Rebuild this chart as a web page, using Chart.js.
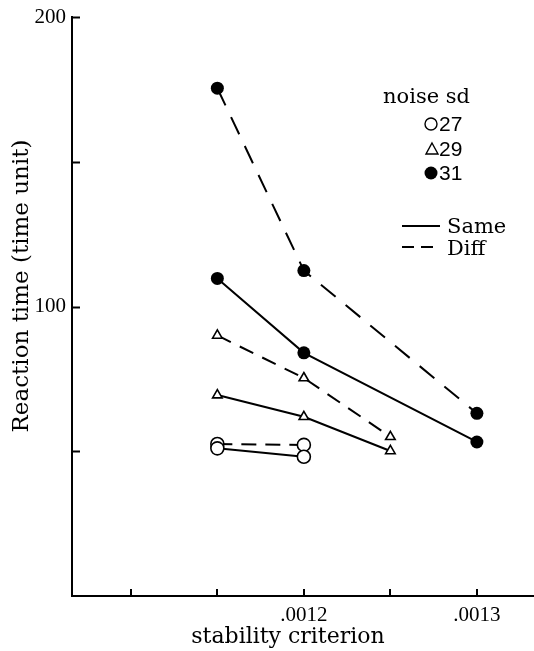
<!DOCTYPE html>
<html>
<head>
<meta charset="utf-8">
<script src="https://cdn.jsdelivr.net/npm/chart.js@4/dist/chart.umd.min.js"></script>
<style>
  html, body { margin: 0; padding: 0; background: #fff; }
  #wrap { width: 534px; height: 651px; }
</style>
</head>
<body>
<div id="wrap"><canvas id="rtChart" width="534" height="651"></canvas></div>
<script>
// stability criterion values used by each noise level
const x27 = [0.00115, 0.0012];
const x29 = [0.00115, 0.0012, 0.00125];
const x31 = [0.00115, 0.0012, 0.0013];

// reaction times (time unit)
const same27 = [51.0, 48.1];
const diff27 = [52.5, 52.2];
const same29 = [69.4, 61.9, 50.1];
const diff29 = [90.0, 75.3, 55.0];
const same31 = [109.7, 84.0, 53.2];
const diff31 = [175.4, 112.4, 63.1];

// axis ticks
const xTickValues = [0.0011, 0.00115, 0.0012, 0.00125, 0.0013];
const xTickLabels = ['', '', '.0012', '', '.0013'];
const yTickValues = [50, 100, 150, 200];
const yTickLabels = ['', '100', '', '200'];

const noiseLevels = ['27', '29', '31'];
const conditionNames = ['Same', 'Diff'];

const serif = "'DejaVu Serif', serif";
const tickFont = "'Liberation Serif', serif";

const toPoints = (xs, ys) => xs.map((x, i) => ({ x: x, y: ys[i] }));

const markerStyles = {
    '27': { pointStyle: 'circle', pointRadius: 6.5, pointBackgroundColor: '#fff', pointBorderWidth: 1.6 },
    '29': { pointStyle: 'triangle', pointRadius: 5.5, pointBackgroundColor: '#fff', pointBorderWidth: 1.6 },
    '31': { pointStyle: 'circle', pointRadius: 6.5, pointBackgroundColor: '#000', pointBorderWidth: 0 }
};

function makeSet(noise, cond, xs, ys, dash) {
    return Object.assign({
        label: noise + ' ' + cond,
        data: toPoints(xs, ys),
        borderColor: '#000',
        borderWidth: 2,
        borderDash: dash,
        pointBorderColor: '#000',
        fill: false,
        tension: 0
    }, markerStyles[noise]);
}

// inward tick marks, axis titles and the hand-set legend
const decorPlugin = {
    id: 'decor',
    afterDraw(chart) {
        const ctx = chart.ctx;
        const xs = chart.scales.x, ys = chart.scales.y;
        const area = chart.chartArea;
        ctx.save();
        ctx.strokeStyle = '#000';
        ctx.lineWidth = 2;
        yTickValues.forEach(v => {
            const py = Math.round(ys.getPixelForValue(v)) + 0.5;
            ctx.beginPath();
            ctx.moveTo(area.left, py);
            ctx.lineTo(area.left + 8, py);
            ctx.stroke();
        });
        xTickValues.forEach(v => {
            const px = Math.round(xs.getPixelForValue(v));
            ctx.beginPath();
            ctx.moveTo(px, area.bottom);
            ctx.lineTo(px, area.bottom - 7);
            ctx.stroke();
        });

        // axis titles
        ctx.fillStyle = '#000';
        ctx.font = '22px ' + serif;
        ctx.textAlign = 'center';
        ctx.textBaseline = 'alphabetic';
        ctx.fillText('stability criterion', 288, 643);
        ctx.save();
        ctx.translate(28, 286);
        ctx.rotate(-Math.PI / 2);
        ctx.font = '23px ' + serif;
        ctx.fillText('Reaction time (time unit)', 0, 0);
        ctx.restore();

        // legend: noise sd
        ctx.textAlign = 'left';
        ctx.textBaseline = 'alphabetic';
        ctx.font = '21px ' + serif;
        ctx.fillText('noise sd', 383, 103);
        ctx.font = "21px 'Liberation Sans Narrow', 'Liberation Sans', sans-serif";
        ctx.textBaseline = 'middle';
        const rows = [124, 149, 173];
        noiseLevels.forEach((n, i) => {
            const cy = rows[i];
            ctx.lineWidth = 1.4;
            ctx.beginPath();
            if (n === '29') {
                ctx.moveTo(432, cy - 6);
                ctx.lineTo(438, cy + 5);
                ctx.lineTo(426, cy + 5);
                ctx.closePath();
                ctx.stroke();
            } else {
                ctx.arc(431, cy, n === '27' ? 6 : 6.5, 0, Math.PI * 2);
                if (n === '31') ctx.fill(); else ctx.stroke();
            }
            ctx.fillText(n, 439, cy + 1);
        });

        // legend: line styles
        ctx.lineWidth = 1.8;
        ctx.beginPath();
        ctx.moveTo(402, 226);
        ctx.lineTo(440, 226);
        ctx.stroke();
        ctx.setLineDash([12, 7]);
        ctx.beginPath();
        ctx.moveTo(402, 247);
        ctx.lineTo(440, 247);
        ctx.stroke();
        ctx.setLineDash([]);
        ctx.font = '21px ' + serif;
        ctx.textBaseline = 'alphabetic';
        ctx.fillText(conditionNames[0], 447, 233);
        ctx.fillText(conditionNames[1], 447, 255);
        ctx.restore();
    }
};

const ctx = document.getElementById('rtChart').getContext('2d');
const rtChart = new Chart(ctx, {
    type: 'line',
    data: {
        datasets: [
            makeSet('27', 'Same', x27, same27, []),
            makeSet('27', 'Diff', x27, diff27, [15, 9]),
            makeSet('29', 'Same', x29, same29, []),
            makeSet('29', 'Diff', x29, diff29, [15, 10]),
            makeSet('31', 'Same', x31, same31, []),
            makeSet('31', 'Diff', x31, diff31, [19, 13])
        ]
    },
    options: {
        responsive: false,
        animation: false,
        layout: { autoPadding: false, padding: { top: 17, right: 0, bottom: 0, left: 0 } },
        scales: {
            x: {
                type: 'linear',
                min: 0.001066,
                max: 0.001333,
                afterFit: (scale) => {
                    scale.height = 55;
                    scale.paddingLeft = 0;
                    scale.paddingRight = 0;
                },
                afterBuildTicks: (scale) => {
                    scale.ticks = xTickValues.map(v => ({ value: v }));
                },
                ticks: {
                    autoSkip: false,
                    maxRotation: 0,
                    padding: 7,
                    color: '#000',
                    font: { family: tickFont, size: 21 },
                    callback: (value) => {
                        const i = xTickValues.findIndex(v => Math.abs(v - value) < 1e-9);
                        return i >= 0 ? xTickLabels[i] : '';
                    }
                },
                grid: { display: false, drawTicks: false },
                border: { display: true, color: '#000', width: 2 }
            },
            y: {
                min: 0,
                max: 200,
                afterFit: (scale) => {
                    scale.width = 72;
                    scale.paddingTop = 0;
                    scale.paddingBottom = 0;
                },
                afterBuildTicks: (scale) => {
                    scale.ticks = yTickValues.map(v => ({ value: v }));
                },
                ticks: {
                    padding: 6,
                    color: '#000',
                    font: { family: tickFont, size: 21 },
                    callback: (value) => {
                        const i = yTickValues.indexOf(value);
                        return i >= 0 ? yTickLabels[i] : '';
                    }
                },
                grid: { display: false, drawTicks: false },
                border: { display: true, color: '#000', width: 2 }
            }
        },
        plugins: {
            legend: { display: false },
            tooltip: { enabled: false }
        }
    },
    plugins: [decorPlugin]
});
</script>
</body>
</html>
